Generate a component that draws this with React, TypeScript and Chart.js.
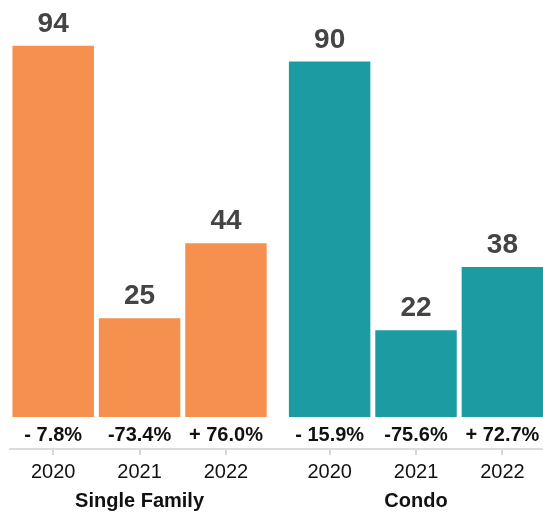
import React, { useEffect, useRef } from "react";
import { Chart, registerables } from "chart.js";

Chart.register(...registerables);

const groups = ["Single Family", "Condo"];
const years = ["2020", "2021", "2022"];
const singleFamily = [94, 25, 44];
const condo = [90, 22, 38];
const singleFamilyChange = ["- 7.8%", "-73.4%", "+ 76.0%"];
const condoChange = ["- 15.9%", "-75.6%", "+ 72.7%"];
const groupColors = ["#F5904F", "#1C9BA2"];

const GROUP_GAP = 0.2;

export default function App() {
  const ref = useRef<HTMLCanvasElement | null>(null);

  useEffect(() => {
    document.body.style.margin = "0";
    const seriesValues = [singleFamily, condo];
    const seriesChanges = [singleFamilyChange, condoChange];
    const points: { x: number; y: number }[] = [];
    const bg: string[] = [];
    const changes: string[] = [];
    const tickLabels: string[] = [];
    const groupIdx: number[] = [];
    seriesValues.forEach((vals, g) => {
      vals.forEach((v, i) => {
        points.push({ x: g * (years.length + GROUP_GAP) + i, y: v });
        bg.push(groupColors[g]);
        changes.push(seriesChanges[g][i]);
        tickLabels.push(years[i]);
        groupIdx.push(g);
      });
    });
    const positions = points.map((p) => p.x);

    const labelPlugin = {
      id: "labels",
      afterDatasetsDraw(chart: any) {
        const ctx = chart.ctx;
        const meta = chart.getDatasetMeta(0);
        const yScale = chart.scales.y;
        ctx.save();
        ctx.textAlign = "center";
        meta.data.forEach((el: any, i: number) => {
          ctx.fillStyle = "#444444";
          ctx.font = "bold 28px 'Liberation Sans', Arial, sans-serif";
          ctx.textBaseline = "alphabetic";
          ctx.fillText(String(points[i].y), el.x, el.y - 14);
          ctx.fillStyle = "#111111";
          ctx.font = "bold 20px 'Liberation Sans', Arial, sans-serif";
          ctx.textBaseline = "middle";
          ctx.fillText(changes[i], el.x, yScale.getPixelForValue(-4.7));
        });
        ctx.fillStyle = "#111111";
        ctx.font = "bold 20px 'Liberation Sans', Arial, sans-serif";
        ctx.textBaseline = "middle";
        groups.forEach((name, g) => {
          const xs = meta.data.filter((_: any, i: number) => groupIdx[i] === g).map((e: any) => e.x);
          const cx = xs.reduce((a: number, b: number) => a + b, 0) / xs.length;
          ctx.fillText(name, cx, 501);
        });
        ctx.restore();
      },
    };

    const chart = new Chart(ref.current as HTMLCanvasElement, {
      type: "bar",
      data: {
        datasets: [
          {
            data: points,
            backgroundColor: bg,
            borderWidth: 0,
            barPercentage: 0.943,
            categoryPercentage: 1,
          },
        ],
      },
      options: {
        animation: false,
        responsive: true,
        maintainAspectRatio: false,
        layout: { padding: { left: 10, right: 0, top: 0, bottom: 0 } },
        plugins: { legend: { display: false }, tooltip: { enabled: false } },
        scales: {
          x: {
            type: "linear",
            offset: false,
            min: -0.5,
            max: 5.67,
            afterBuildTicks: (scale: any) => {
              scale.ticks = positions.map((v) => ({ value: v }));
            },
            afterFit: (scale: any) => {
              scale.height = 65;
            },
            grid: {
              display: true,
              offset: false,
              drawOnChartArea: false,
              drawTicks: true,
              tickLength: 6,
              color: "#d6d6d6",
              lineWidth: 2,
            },
            border: { display: true, color: "#dcdcdc", width: 2 },
            ticks: {
              autoSkip: false,
              maxRotation: 0,
              padding: 5,
              color: "#111111",
              font: { family: "'Liberation Sans', Arial, sans-serif", size: 20 },
              callback: (_v: any, index: number) => tickLabels[index],
            },
          },
          y: {
            display: false,
            min: -8.1,
            max: 105.6,
          },
        },
      },
      plugins: [labelPlugin],
    } as any);
    return () => chart.destroy();
  }, []);

  return (
    <div style={{ position: "absolute", left: 0, top: 0, width: 543, height: 514 }}>
      <canvas ref={ref} />
    </div>
  );
}
